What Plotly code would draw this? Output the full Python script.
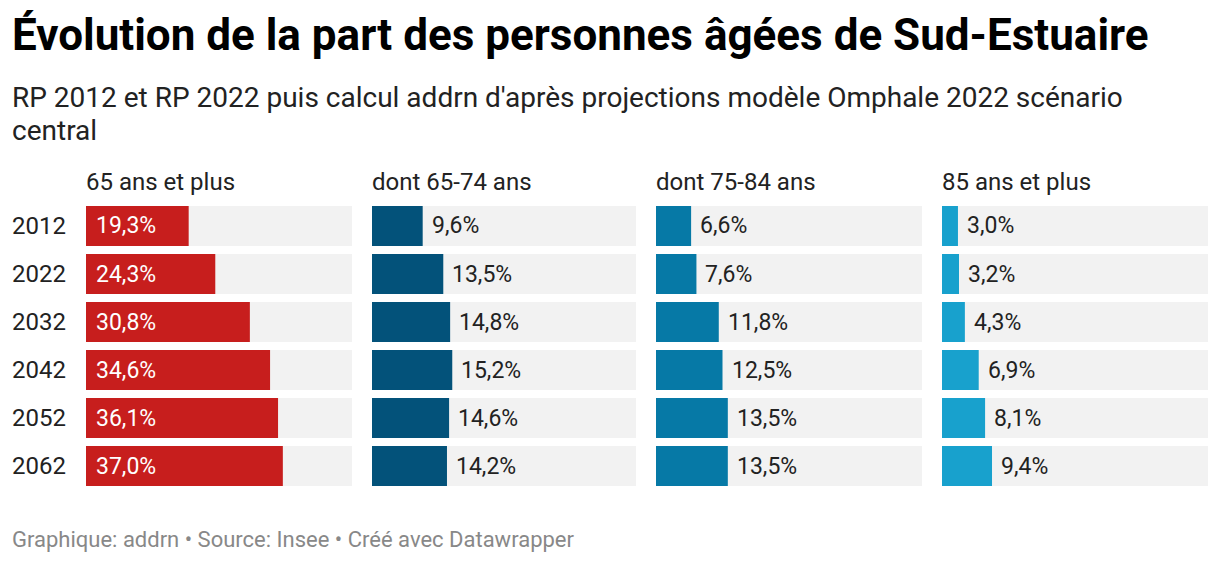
import plotly.graph_objects as go

years = ["2012", "2022", "2032", "2042", "2052", "2062"]
panel_titles = ["65 ans et plus", "dont 65-74 ans", "dont 75-84 ans", "85 ans et plus"]
v65plus = [19.3, 24.3, 30.8, 34.6, 36.1, 37.0]
v65_74 = [9.6, 13.5, 14.8, 15.2, 14.6, 14.2]
v75_84 = [6.6, 7.6, 11.8, 12.5, 13.5, 13.5]
v85plus = [3.0, 3.2, 4.3, 6.9, 8.1, 9.4]
series = [v65plus, v65_74, v75_84, v85plus]
colors = ["#c71e1d", "#03527a", "#0679a6", "#18a1cd"]
axis_max = 50

title_text = "<b>Évolution de la part des personnes âgées de Sud-Estuaire</b>"
subtitle_lines = ["RP 2012 et RP 2022 puis calcul addrn d'après projections modèle Omphale 2022 scénario",
                  "central"]
footer_text = "Graphique: addrn • Source: Insee • Créé avec Datawrapper"

OFF = 8  # page body margin compensation
W, H = 1220 - OFF, 562 - OFF
FONT = "Roboto"

def px(X):
    return (X - OFF) / W

def py(Y):
    return 1 - (Y - OFF) / H

panels_px = [(86, 352), (372, 636), (656, 922), (942, 1208)]
top_px, bot_px = 206, 486
ydom = [py(bot_px), py(top_px)]

def fr(s):
    return f"{s:.1f}".replace(".", ",") + "%"

fig = go.Figure()
annotations = []
for i, (vals, col) in enumerate(zip(series, colors)):
    xa = "x" if i == 0 else f"x{i+1}"
    ya = "y" if i == 0 else f"y{i+1}"
    fig.add_trace(go.Bar(y=years, x=[axis_max] * len(years), orientation="h",
                         marker=dict(color="#f2f2f2", line=dict(width=0)),
                         width=40 / 48, xaxis=xa, yaxis=ya, hoverinfo="skip",
                         showlegend=False))
    fig.add_trace(go.Bar(y=years, x=vals, orientation="h",
                         marker=dict(color=col, line=dict(width=0)),
                         width=40 / 48, xaxis=xa, yaxis=ya, showlegend=False))
    for j, v in enumerate(vals):
        if i == 0:
            annotations.append(dict(x=0, y=j, xref=xa, yref=ya, text=fr(v),
                                    showarrow=False, xanchor="left", xshift=8,
                                    font=dict(family=FONT, size=23, color="white")))
        else:
            annotations.append(dict(x=v, y=j, xref=xa, yref=ya, text=fr(v),
                                    showarrow=False, xanchor="left", xshift=7,
                                    font=dict(family=FONT, size=23, color="#222222")))
    x0, x1 = panels_px[i]
    annotations.append(dict(x=px(x0), y=py(182), xref="paper", yref="paper",
                            text=panel_titles[i], showarrow=False, xanchor="left",
                            yanchor="middle", xshift=-2,
                            font=dict(family=FONT, size=24, color="#222222")))
    axis_common = dict(range=[0, axis_max], domain=[px(x0), px(x1)], showgrid=False,
                       zeroline=False, showticklabels=False, fixedrange=True)
    yaxis_common = dict(range=[5 + 0.5 - 4 / 48, -0.5 + 4 / 48], domain=ydom,
                        showgrid=False, zeroline=False, showticklabels=False,
                        type="category", fixedrange=True)
    if i == 0:
        fig.update_layout(xaxis=dict(**axis_common, anchor="y"),
                          yaxis=dict(**yaxis_common, anchor="x"))
    else:
        fig.update_layout(**{f"xaxis{i+1}": dict(**axis_common, anchor=f"y{i+1}"),
                             f"yaxis{i+1}": dict(**yaxis_common, anchor=f"x{i+1}")})

for j, yv in enumerate(years):
    annotations.append(dict(x=px(10), y=j, xref="paper", yref="y", text=yv,
                            showarrow=False, xanchor="left",
                            font=dict(family=FONT, size=24, color="#222222")))

annotations.append(dict(x=px(10), y=py(35), xref="paper", yref="paper",
                        text=title_text, showarrow=False, xanchor="left", yanchor="middle",
                        font=dict(family=FONT, size=44, color="#000000")))
for k, (line, yy) in enumerate(zip(subtitle_lines, [98, 130])):
    annotations.append(dict(x=px(10), y=py(yy), xref="paper", yref="paper",
                            text=line, showarrow=False, xanchor="left", yanchor="middle",
                            font=dict(family=FONT, size=28, color="#222222")))
annotations.append(dict(x=px(10), y=py(539), xref="paper", yref="paper",
                        text=footer_text, showarrow=False, xanchor="left", yanchor="middle",
                        font=dict(family=FONT, size=22, color="#888888")))

fig.update_layout(width=W, height=H, margin=dict(l=0, r=0, t=0, b=0),
                  barmode="overlay", plot_bgcolor="white", paper_bgcolor="white",
                  annotations=annotations, font=dict(family=FONT))
fig.write_html("out.html")
